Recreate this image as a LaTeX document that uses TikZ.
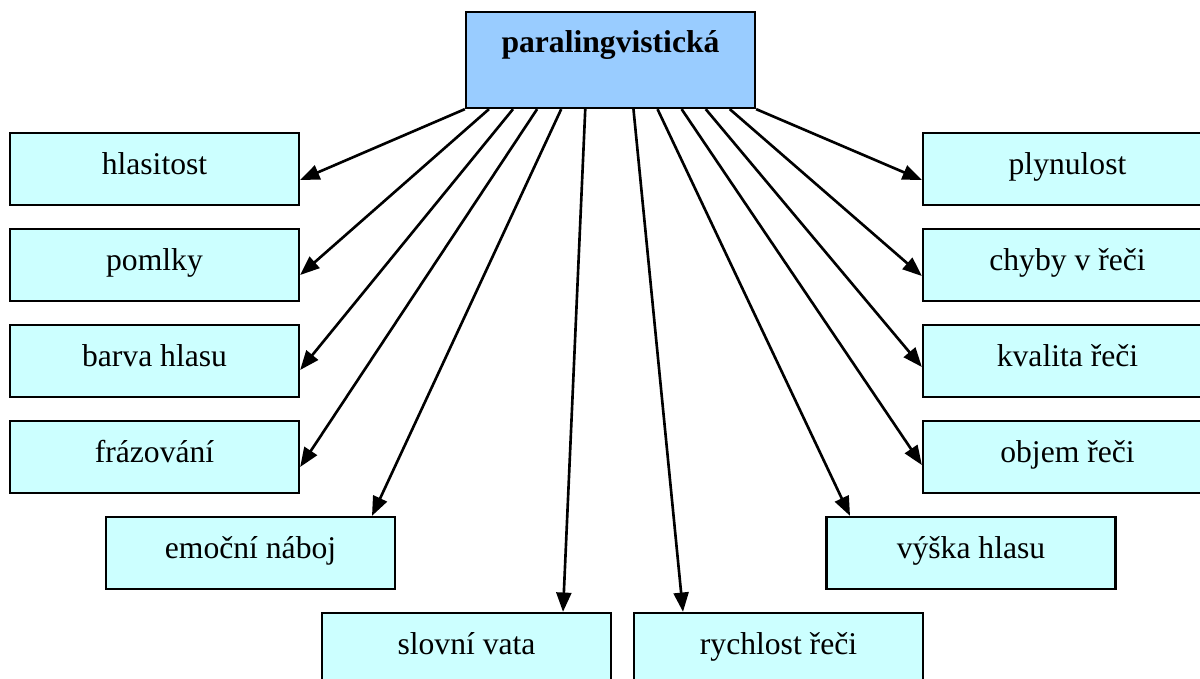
\documentclass[tikz,border=0pt]{standalone}
\usepackage{fontspec}
\setmainfont{Liberation Serif}
\usetikzlibrary{arrows.meta}
\usepackage{xcolor}
\definecolor{modra}{HTML}{99CCFF}
\definecolor{azurova}{HTML}{CCFFFF}

\begin{document}
\begin{tikzpicture}[
    every node/.style={font=\fontsize{18}{22}\selectfont,align=center},
    box/.style={draw=black,line width=1.3pt,fill=azurova,minimum width=5.78cm,minimum height=1.44cm,text height=10pt,text depth=4pt},
    hlavni/.style={draw=black,line width=1.3pt,fill=modra,minimum width=5.78cm,minimum height=1.92cm,inner ysep=0pt,text height=0.82cm,text depth=1.10cm,font=\fontsize{18}{22}\selectfont\bfseries},
    sipka/.style={line width=1.5pt,-{Triangle[length=11pt,width=8.5pt]}}
  ]
    \useasboundingbox (0,0) rectangle (24,-13.58);
    \node[hlavni] (para) at (12.21,-1.20) {paralingvistická};
    % levy sloupec
    \node[box] (hlasitost) at (3.09,-3.38) {hlasitost};
    \node[box] (pomlky) at (3.09,-5.30) {pomlky};
    \node[box] (barva) at (3.09,-7.22) {barva hlasu};
    \node[box] (frazovani) at (3.09,-9.14) {frázování};
    \node[box] (emocni) at (5.01,-11.06) {emoční náboj};
    \node[box] (slovni) at (9.33,-12.98) {slovní vata};
    % pravy sloupec
    \node[box] (rychlost) at (15.57,-12.98) {rychlost řeči};
    \node[box] (vyska) at (19.42,-11.06) {výška hlasu};
    \node[box] (objem) at (21.35,-9.14) {objem řeči};
    \node[box] (kvalita) at (21.35,-7.22) {kvalita řeči};
    \node[box] (chyby) at (21.35,-5.30) {chyby v řeči};
    \node[box] (plynulost) at (21.35,-3.38) {plynulost};
    \draw[sipka] (para.south west) -- ([yshift=-0.22cm]hlasitost.east);
    \draw[sipka] ([xshift=0.482cm]para.south west) -- ([yshift=-0.2cm]pomlky.east);
    \draw[sipka] ([xshift=0.963cm]para.south west) -- ([yshift=-0.18cm]barva.east);
    \draw[sipka] ([xshift=1.445cm]para.south west) -- ([yshift=-0.2cm]frazovani.east);
    \draw[sipka] ([xshift=1.927cm]para.south west) -- ([xshift=2.43cm]emocni.north);
    \draw[sipka] ([xshift=2.408cm]para.south west) -- ([xshift=1.93cm]slovni.north);
    \draw[sipka] ([xshift=3.372cm]para.south west) -- ([xshift=-1.91cm]rychlost.north);
    \draw[sipka] ([xshift=3.853cm]para.south west) -- ([xshift=-2.42cm]vyska.north);
    \draw[sipka] ([xshift=4.335cm]para.south west) -- ([yshift=-0.16cm]objem.west);
    \draw[sipka] ([xshift=4.817cm]para.south west) -- ([yshift=-0.12cm]kvalita.west);
    \draw[sipka] ([xshift=5.298cm]para.south west) -- ([yshift=-0.22cm]chyby.west);
    \draw[sipka] (para.south east) -- ([yshift=-0.22cm]plynulost.west);
  \end{tikzpicture}
\end{document}
